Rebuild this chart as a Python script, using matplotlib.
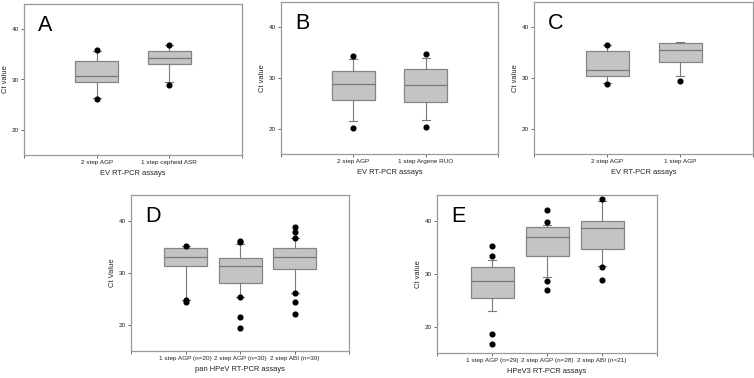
import matplotlib
matplotlib.use("Agg")
import matplotlib.pyplot as plt

plt.rcParams["font.family"] = ["Liberation Sans", "DejaVu Sans"]

# ---- data (Ct values) ------------------------------------------------------
# per box: q1, median, q3, lower whisker, upper whisker, outlier points
a_labels = ["2 step AGP", "1 step cepheid ASR"]
a_q1 = [29.5, 33.0]
a_med = [30.6, 34.3]
a_q3 = [33.6, 35.7]
a_lo = [26.3, 29.5]
a_hi = [35.7, 36.9]
a_out = [[35.9, 26.1], [36.9, 29.0]]

b_labels = ["2 step AGP", "1 step Argene RUO"]
b_q1 = [25.6, 25.2]
b_med = [28.9, 28.7]
b_q3 = [31.3, 31.8]
b_lo = [21.5, 21.7]
b_hi = [33.8, 34.0]
b_out = [[34.3, 20.1], [34.7, 20.4]]

c_labels = ["2 step AGP", "1 step AGP"]
c_q1 = [30.4, 33.2]
c_med = [31.6, 35.5]
c_q3 = [35.3, 36.9]
c_lo = [29.1, 30.4]
c_hi = [36.6, 37.1]
c_out = [[36.6, 28.75], [29.4]]

d_labels = ["1 step AGP (n=20)", "2 step AGP (n=30)", "2 step ABI (n=30)"]
d_q1 = [31.4, 28.0, 30.8]
d_med = [33.1, 31.4, 33.1]
d_q3 = [34.8, 32.95, 34.9]
d_lo = [24.9, 25.4, 26.1]
d_hi = [35.1, 35.5, 36.7]
d_out = [[35.2, 24.75, 24.4],
         [36.1, 35.9, 25.35, 21.5, 19.5],
         [38.9, 37.95, 36.7, 26.1, 24.4, 22.2]]

e_labels = ["1 step AGP (n=29)", "2 step AGP (n=28)", "2 step ABI (n=21)"]
e_q1 = [25.5, 33.35, 34.7]
e_med = [28.7, 37.0, 38.8]
e_q3 = [31.4, 38.9, 40.0]
e_lo = [22.9, 29.5, 31.6]
e_hi = [32.6, 39.35, 43.9]
e_out = [[35.3, 33.4, 18.7, 16.65],
         [42.2, 39.9, 28.7, 27.0],
         [44.2, 31.3, 28.8]]

W, H = 754, 378
GRID = "#9a9a9a"
BOX_FACE = "#c4c4c4"
BOX_EDGE = "#858585"


def px_axes(fig, left, top, right, bottom):
    return fig.add_axes([left / W, 1 - bottom / H, (right - left) / W,
                         (bottom - top) / H])


def panel(ax, letter, labels, q1, med, q3, lo, hi, out, xlabel,
          ylabel="Ct value"):
    n = len(labels)
    span_px = ax.get_position().width * W
    box_w = 43 / span_px * (n + 1)
    cap_w = 8 / span_px * (n + 1)
    stats = []
    for i in range(n):
        stats.append(dict(med=med[i], q1=q1[i], q3=q3[i],
                          whislo=lo[i], whishi=hi[i], fliers=out[i]))
    ax.bxp(stats, positions=range(1, n + 1), widths=box_w,
           capwidths=cap_w, patch_artist=True, showfliers=True,
           boxprops=dict(facecolor=BOX_FACE, edgecolor=BOX_EDGE, lw=0.9),
           medianprops=dict(color="#777777", lw=0.9),
           whiskerprops=dict(color="#7a7a7a", lw=0.8),
           capprops=dict(color="#7a7a7a", lw=0.8),
           flierprops=dict(marker="o", markerfacecolor="black",
                           markeredgecolor="black", markersize=3.4))
    ax.set_xlim(0, n + 1)
    ax.set_ylim(15, 45)
    ax.set_yticks([20, 30, 40])
    ax.set_xticks(range(0, n + 2))
    ax.set_xticklabels([""] + labels + [""])
    for sp in ax.spines.values():
        sp.set_color(GRID)
        sp.set_linewidth(0.9)
    ax.tick_params(axis="both", length=2.2, width=0.6, color="#555555",
                   labelsize=4.6, pad=1.2, labelcolor="#222222")
    ax.set_xlabel(xlabel, fontsize=5.4, labelpad=3.5, color="#222222")
    ax.set_ylabel(ylabel, fontsize=5.4, labelpad=2.5, color="#222222")
    ax.text(0.065, 0.93, letter, transform=ax.transAxes, fontsize=15.5,
            ha="left", va="top", color="black")


fig = plt.figure(figsize=(W / 100, H / 100), dpi=100)

ax_a = px_axes(fig, 24, 4, 242, 155)
ax_b = px_axes(fig, 281, 2, 498, 154)
ax_c = px_axes(fig, 534, 2, 753, 154)
ax_d = px_axes(fig, 131, 195, 349, 351)
ax_e = px_axes(fig, 437, 195, 657, 353)

panel(ax_a, "A", a_labels, a_q1, a_med, a_q3, a_lo, a_hi, a_out,
      "EV RT-PCR assays")
panel(ax_b, "B", b_labels, b_q1, b_med, b_q3, b_lo, b_hi, b_out,
      "EV RT-PCR assays")
panel(ax_c, "C", c_labels, c_q1, c_med, c_q3, c_lo, c_hi, c_out,
      "EV RT-PCR assays")
panel(ax_d, "D", d_labels, d_q1, d_med, d_q3, d_lo, d_hi, d_out,
      "pan HPeV RT-PCR assays", ylabel="Ct Value")
panel(ax_e, "E", e_labels, e_q1, e_med, e_q3, e_lo, e_hi, e_out,
      "HPeV3 RT-PCR assays")

fig.savefig("out.png", dpi=100)
